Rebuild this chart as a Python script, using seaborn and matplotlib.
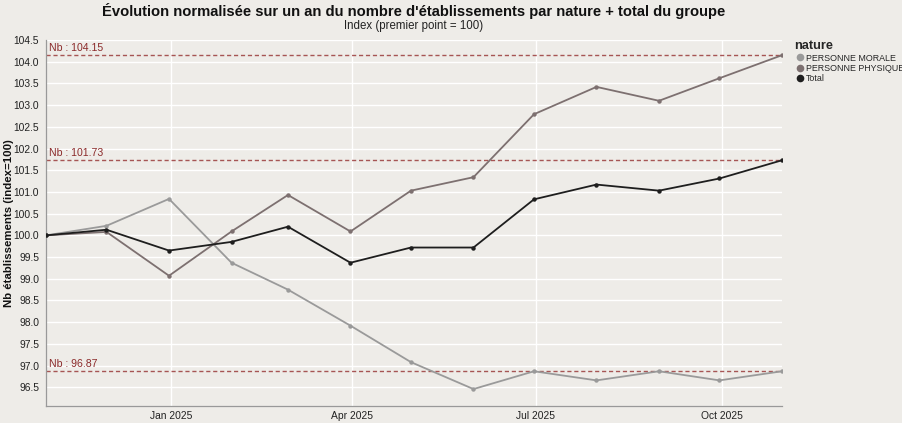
import numpy as np
import pandas as pd
import matplotlib
matplotlib.use("Agg")
import matplotlib.pyplot as plt
import matplotlib.dates as mdates
from matplotlib.lines import Line2D
import seaborn as sns

# ---- data ----
dates = pd.date_range("2024-10-31", periods=13, freq="ME")
morale = [100.0, 100.22, 100.84, 99.37, 98.75, 97.92, 97.08, 96.46, 96.87, 96.66, 96.87, 96.66, 96.87]
physique = [100.0, 100.08, 99.07, 100.09, 100.93, 100.09, 101.03, 101.34, 102.79, 103.42, 103.10, 103.62, 104.15]
total = [100.0, 100.13, 99.65, 99.85, 100.20, 99.37, 99.72, 99.72, 100.83, 101.17, 101.03, 101.31, 101.73]
series_names = ["PERSONNE MORALE", "PERSONNE PHYSIQUE", "Total"]
ref_values = [104.15, 101.73, 96.87]
xtick_dates = pd.to_datetime(["2025-01-01", "2025-04-01", "2025-07-01", "2025-10-01"])
xtick_labels = ["Jan 2025", "Apr 2025", "Jul 2025", "Oct 2025"]
yticks = np.arange(96.5, 104.51, 0.5)

df = pd.DataFrame({
    "date": list(dates) * 3,
    "value": morale + physique + total,
    "nature": [series_names[0]] * 13 + [series_names[1]] * 13 + [series_names[2]] * 13,
})

palette = {"PERSONNE MORALE": "#9a9a9a", "PERSONNE PHYSIQUE": "#7d7070", "Total": "#1e1e1e"}
bg = "#eeece8"
ref_color = "#9a3a3a"

sns.set_theme(style="white")
plt.rcParams["font.family"] = ["Liberation Sans", "DejaVu Sans"]

fig = plt.figure(figsize=(9.03, 4.23), dpi=100, facecolor=bg)
ax = fig.add_axes([46 / 903, 1 - 406 / 423, (782 - 46) / 903, (406 - 40) / 423])
ax.set_facecolor(bg)

# grid
ax.set_axisbelow(True)
ax.grid(True, color="white", linewidth=1.0)

sns.lineplot(data=df, x="date", y="value", hue="nature", palette=palette,
             marker="o", markersize=3.2, markeredgewidth=0, linewidth=1.3,
             legend=False, ax=ax, zorder=3)

for v in ref_values:
    ax.axhline(v, color=ref_color, linestyle=(0, (3, 2)), linewidth=1.0, alpha=0.85, zorder=2)
    ax.text(dates[0] + pd.Timedelta(days=1.5), v + 0.05, f"Nb : {v:.2f}", color="#8b2a2a",
            fontsize=7.6, ha="left", va="bottom", zorder=4)

ax.set_xlim(dates[0], dates[-1])
ax.set_ylim(96.07, 104.5)
ax.set_xticks(xtick_dates)
ax.set_xticklabels(xtick_labels)
ax.set_yticks(yticks)
ax.set_yticklabels([f"{t:.1f}" for t in yticks])
ax.tick_params(axis="y", labelsize=7.4, colors="#888888", labelcolor="#222222",
               length=4, width=0.8, pad=1, direction="out")
ax.tick_params(axis="x", labelsize=7.4, colors="#888888", labelcolor="#222222",
               length=2.5, width=0.8, pad=1, direction="out")

for s in ["top", "right"]:
    ax.spines[s].set_visible(False)
for s in ["left", "bottom"]:
    ax.spines[s].set_color("#999999")
    ax.spines[s].set_linewidth(0.9)

ax.set_xlabel("")
ax.set_ylabel("Nb établissements (index=100)", fontsize=8.2, fontweight="bold", color="#111111")
ax.yaxis.set_label_coords((14 - 46) / 736, 0.5)

fig.text(414 / 903, 1 - 11 / 423, "Évolution normalisée sur un an du nombre d'établissements par nature + total du groupe",
         ha="center", va="center", fontsize=10.6, fontweight="bold", color="#111111")
fig.text(414 / 903, 1 - 26 / 423, "Index (premier point = 100)", ha="center", va="center",
         fontsize=8.3, color="#222222")

handles = [Line2D([0], [0], marker="o", linestyle="", markersize=5.5, markerfacecolor=palette[n],
                  markeredgewidth=0) for n in series_names]
leg = fig.legend(handles, series_names, title="nature", loc="upper left",
                 bbox_to_anchor=(788 / 903, 1 - 34 / 423), frameon=False, fontsize=6.4,
                 title_fontproperties={"weight": "bold", "size": 9.2},
                 handletextpad=0.1, labelspacing=0.15, borderpad=0.2, handlelength=1.2,
                 alignment="left")

fig.savefig("out.png", dpi=100, facecolor=bg)
